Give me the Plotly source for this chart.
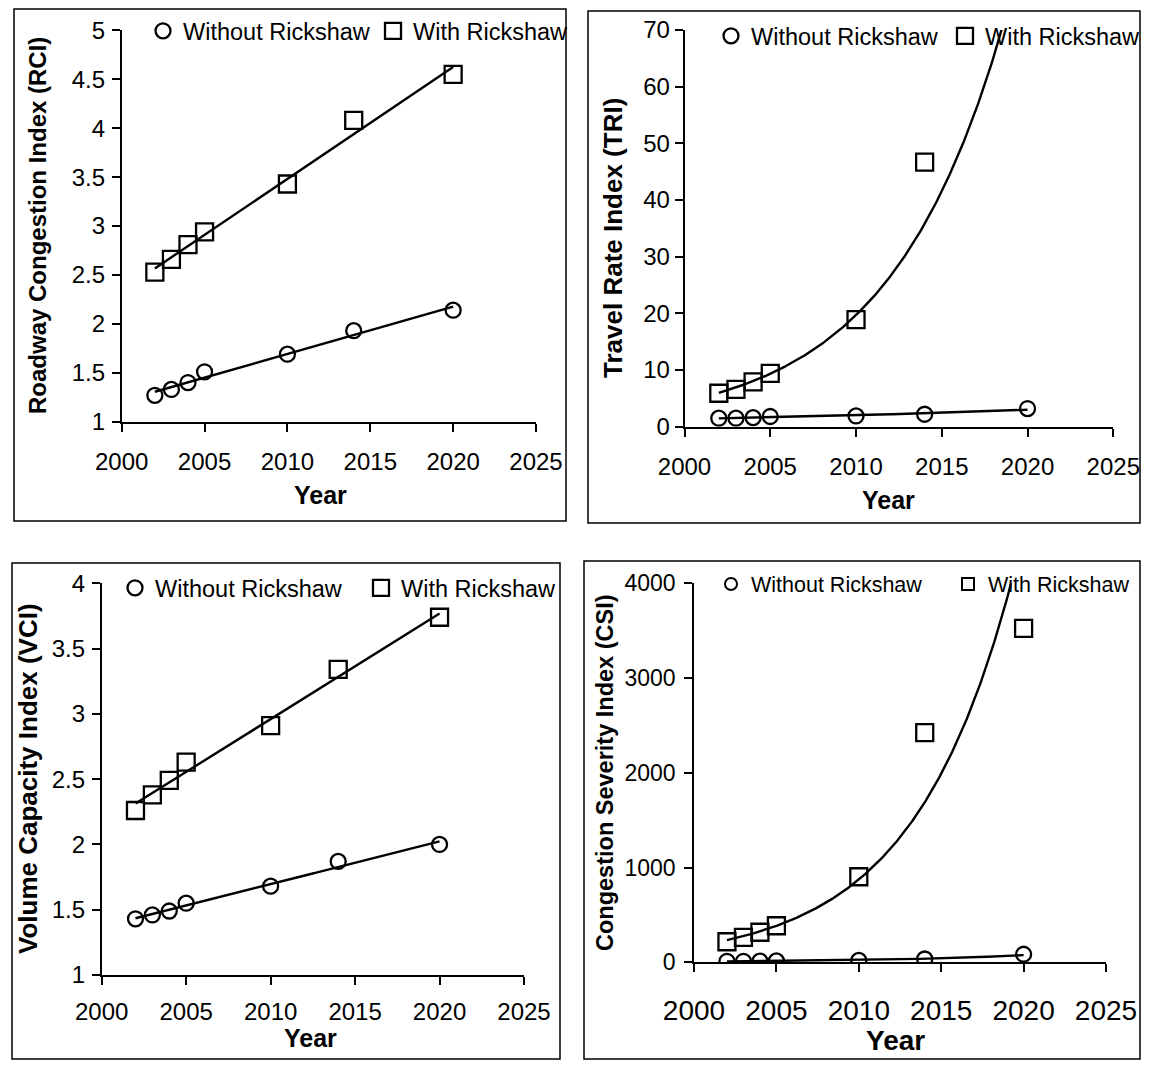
import numpy as np
import plotly.graph_objects as go

# ---------------- data ----------------
years = [2002, 2003, 2004, 2005, 2010, 2014, 2020]

rci_without = [1.27, 1.33, 1.40, 1.51, 1.69, 1.93, 2.14]
rci_with = [2.53, 2.66, 2.81, 2.94, 3.43, 4.08, 4.55]

tri_without = [1.5, 1.5, 1.6, 1.8, 1.9, 2.2, 3.2]
# 2020 "with" value lies above the axis maximum (not visible, estimated)
tri_with = [5.9, 6.6, 7.9, 9.4, 18.9, 46.7, 75.0]

vci_without = [1.43, 1.46, 1.49, 1.55, 1.68, 1.87, 2.00]
vci_with = [2.26, 2.38, 2.49, 2.63, 2.91, 3.34, 3.74]

csi_without = [10, 10, 12, 15, 20, 35, 85]
csi_with = [217, 264, 317, 386, 903, 2423, 3525]

x_ticks = [2000, 2005, 2010, 2015, 2020, 2025]

y_titles = ["Roadway Congestion Index (RCI)", "Travel Rate Index (TRI)",
            "Volume Capacity Index (VCI)", "Congestion Severity Index (CSI)"]
x_title = "Year"
names = ["Without Rickshaw", "With Rickshaw"]

# ---------------- layout helpers ----------------
OFF = 8                      # default page (body) margin
W, H = 1149 - 2 * OFF, 1068 - 2 * OFF
FONT = "Liberation Sans, Arial, sans-serif"


def px(x):
    return (x - OFF) / W


def py(y):
    return 1 - (y - OFF) / H


def linear_trend(xs, ys):
    b, a = np.polyfit(xs, ys, 1)
    xt = np.linspace(min(xs), max(xs), 200)
    return xt, a + b * xt


def expo_trend(xs, ys):
    b, a = np.polyfit(xs, np.log(ys), 1)
    xt = np.linspace(min(xs), max(xs), 300)
    return xt, np.exp(a + b * xt)


panels = [
    dict(wo=rci_without, wi=rci_with, kind="lin", yr=[1, 5], dt=0.5,
         xd=(121.7, 536), yd=(421.7, 30.4), box=(14, 9, 566, 521),
         yt=(37, 226, 24), xt=(320, 495, 25), xfs=24, yfs=24, xso=10, yso=2,
         leg=(143, 31, 185, 23.5, "trace")),
    dict(wo=tri_without, wi=tri_with, kind="exp", yr=[0, 70], dt=10,
         xd=(684.5, 1113.3), yd=(426.7, 30.0), box=(588, 11, 1140, 523),
         yt=(613, 238, 26), xt=(888, 500, 25), xfs=24, yfs=24, xso=10, yso=0,
         leg=(711, 36, 189, 23.5, "trace")),
    dict(wo=vci_without, wi=vci_with, kind="lin", yr=[1, 4], dt=0.5,
         xd=(101.7, 524), yd=(975, 583.3), box=(12, 563, 560, 1059),
         yt=(28, 779, 26), xt=(310, 1038, 25), xfs=24, yfs=24, xso=6, yso=2,
         leg=(115, 588, 201, 23.5, "trace")),
    dict(wo=csi_without, wi=csi_with, kind="exp", yr=[0, 4000], dt=1000,
         xd=(694, 1106), yd=(962.3, 583.3), box=(584, 561, 1140, 1059),
         yt=(605, 773, 23.5), xt=(895, 1040, 28), xfs=28, yfs=23, xso=14, yso=4,
         leg=(711, 584, 192, 21.5, "constant")),
]

fig = go.Figure()
annotations = []
shapes = []

for i, p in enumerate(panels, start=1):
    sfx = "" if i == 1 else str(i)
    xa, ya = "x" + sfx, "y" + sfx
    lg = "legend" + sfx

    fig.add_trace(go.Scatter(
        x=years, y=p["wo"], mode="markers", name=names[0], xaxis=xa, yaxis=ya,
        legend=lg, cliponaxis=True,
        marker=dict(symbol="circle-open", size=15, color="black",
                    line=dict(width=2.3, color="black"))))
    fig.add_trace(go.Scatter(
        x=years, y=p["wi"], mode="markers", name=names[1], xaxis=xa, yaxis=ya,
        legend=lg, cliponaxis=True,
        marker=dict(symbol="square-open", size=17, color="black",
                    line=dict(width=2.3, color="black"))))

    fn = linear_trend if p["kind"] == "lin" else expo_trend
    for series in (p["wo"], p["wi"]):
        tx, ty = fn(years, series)
        fig.add_trace(go.Scatter(
            x=tx, y=ty, mode="lines", showlegend=False, xaxis=xa, yaxis=ya,
            line=dict(color="black", width=2.4), hoverinfo="skip"))

    x0, x1 = p["xd"]
    yb, ytp = p["yd"]
    common = dict(showline=True, linecolor="black", linewidth=1.6,
                  ticks="outside", ticklen=8, tickwidth=1.5, tickcolor="black",
                  showgrid=False, zeroline=False, fixedrange=True)
    fig.update_layout(**{
        "xaxis" + sfx: dict(domain=[px(x0), px(x1)], range=[2000, 2025],
                            tickvals=x_ticks, anchor=ya,
                            tickfont=dict(size=p["xfs"], color="black", family=FONT),
                            ticklabelstandoff=p["xso"], **common),
        "yaxis" + sfx: dict(domain=[py(yb), py(ytp)], range=p["yr"],
                            dtick=p["dt"], tick0=p["yr"][0], anchor=xa,
                            tickfont=dict(size=p["yfs"], color="black", family=FONT),
                            ticklabelstandoff=p["yso"], **common),
        lg: dict(orientation="h", x=px(p["leg"][0]), y=py(p["leg"][1]),
                 xanchor="left", yanchor="middle", entrywidth=p["leg"][2],
                 entrywidthmode="pixels", itemsizing=p["leg"][4],
                 bgcolor="rgba(0,0,0,0)", borderwidth=0,
                 font=dict(size=p["leg"][3], color="black", family=FONT)),
    })

    bx0, by0, bx1, by1 = p["box"]
    shapes.append(dict(type="rect", xref="paper", yref="paper",
                       x0=px(bx0), x1=px(bx1), y0=py(by1), y1=py(by0),
                       line=dict(color="black", width=1.5), layer="below"))

    annotations.append(dict(text="<b>%s</b>" % y_titles[i - 1], xref="paper", yref="paper",
                            x=px(p["yt"][0]), y=py(p["yt"][1]), textangle=-90,
                            showarrow=False, xanchor="center", yanchor="middle",
                            font=dict(size=p["yt"][2], color="black", family=FONT)))
    annotations.append(dict(text="<b>%s</b>" % x_title, xref="paper", yref="paper",
                            x=px(p["xt"][0]), y=py(p["xt"][1]),
                            showarrow=False, xanchor="center", yanchor="middle",
                            font=dict(size=p["xt"][2], color="black", family=FONT)))

fig.update_layout(width=W, height=H,
                  margin=dict(l=0, r=0, t=0, b=0, autoexpand=False),
                  paper_bgcolor="white", plot_bgcolor="rgba(0,0,0,0)",
                  annotations=annotations, shapes=shapes,
                  font=dict(family=FONT, color="black"))

fig.write_html("out.html")
